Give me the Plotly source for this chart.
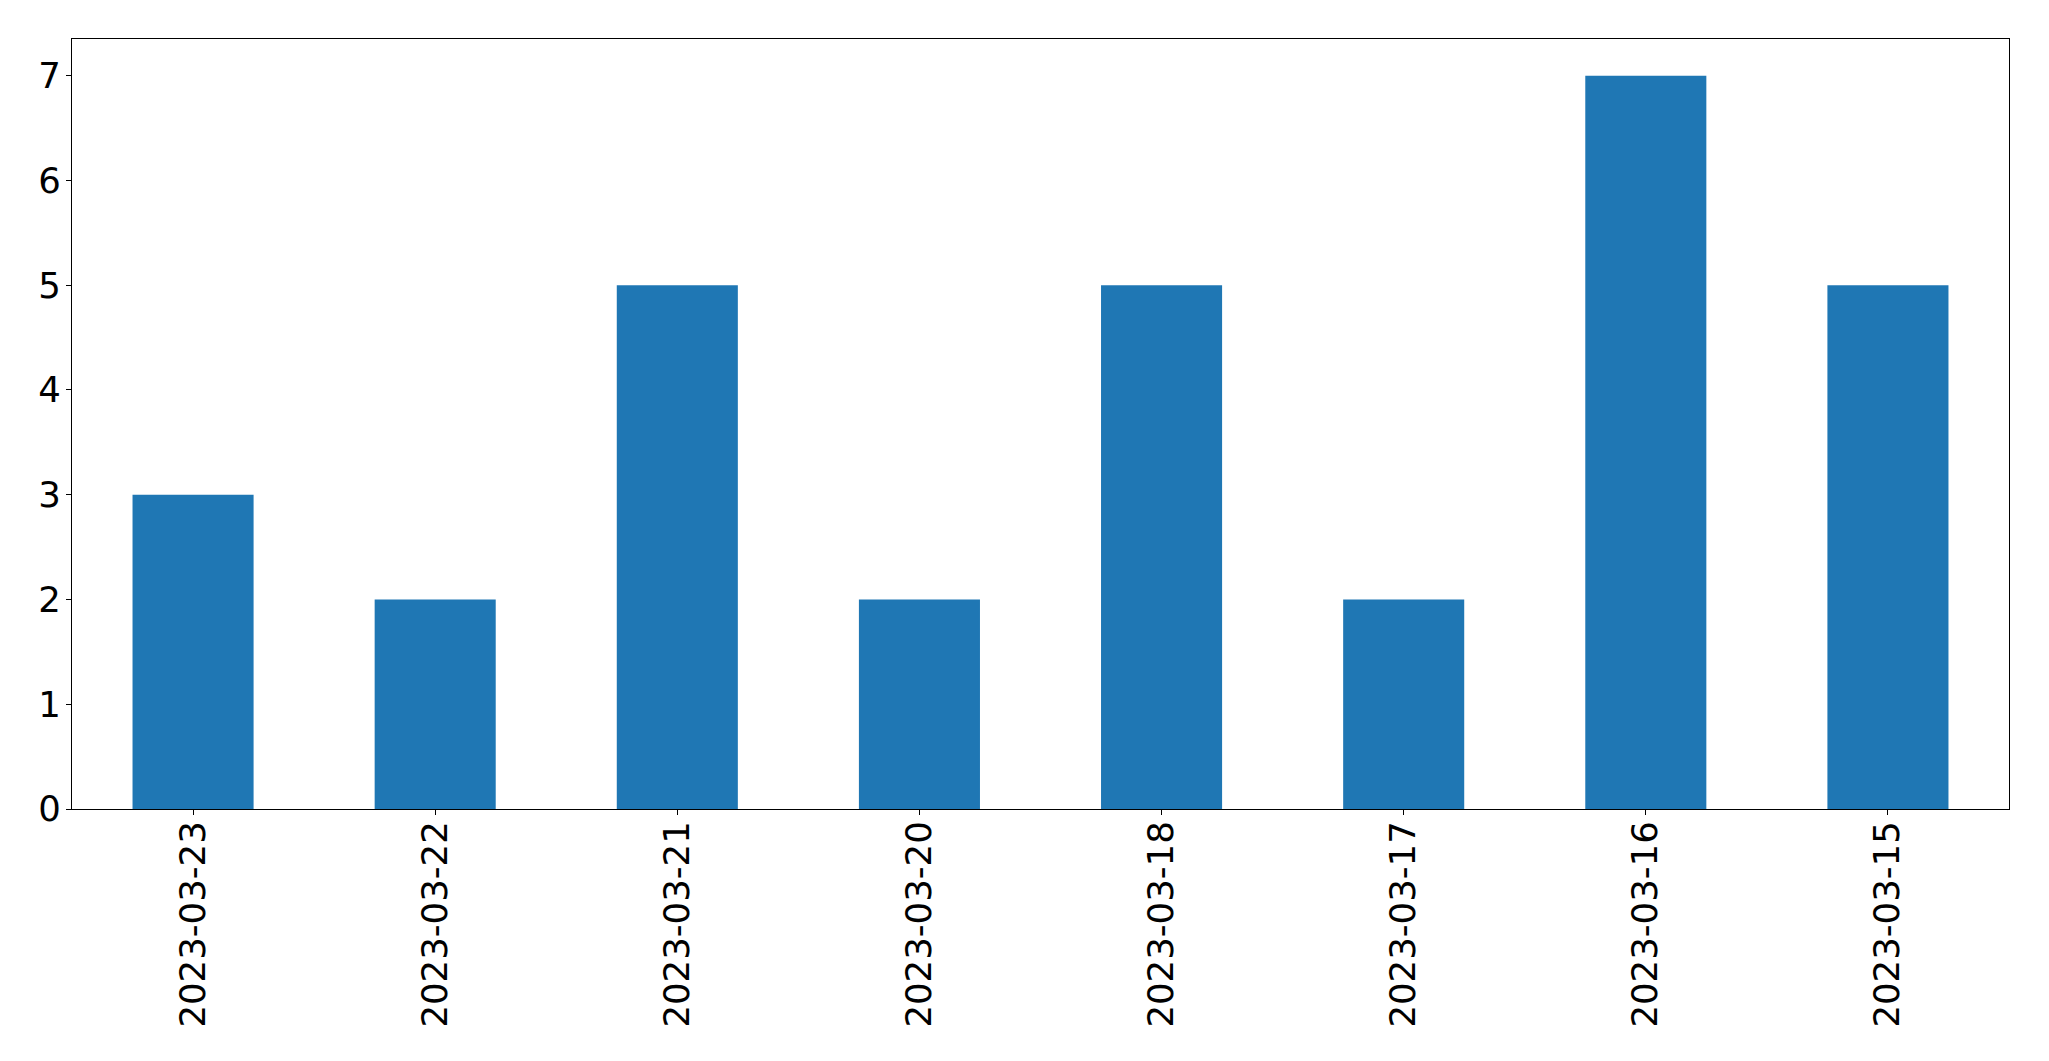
import plotly.graph_objects as go

dates = ["2023-03-23", "2023-03-22", "2023-03-21", "2023-03-20",
         "2023-03-18", "2023-03-17", "2023-03-16", "2023-03-15"]
counts = [3, 2, 5, 2, 5, 2, 7, 5]

fig = go.Figure(go.Bar(x=dates, y=counts, marker_color="#1f77b4",
                       marker_line_width=0, width=0.5))

font = dict(family="DejaVu Sans", size=35.5, color="black")
fig.update_layout(
    width=2033, height=1045,
    margin=dict(l=64, r=32, t=31, b=244),
    plot_bgcolor="white", paper_bgcolor="white",
    showlegend=False,
    font=font,
)
fig.update_xaxes(type="category", range=[-0.5, 7.5], tickangle=-90,
                 showline=True, mirror=True, linecolor="black", linewidth=1.1,
                 ticks="outside", ticklen=5, tickwidth=1.1, tickcolor="black",
                 showgrid=False, zeroline=False, tickfont=font, ticklabelstandoff=-8)
fig.update_yaxes(range=[0, 7.35], tickvals=[0, 1, 2, 3, 4, 5, 6, 7],
                 showline=True, mirror=True, linecolor="black", linewidth=1.1,
                 ticks="outside", ticklen=5, tickwidth=1.1, tickcolor="black",
                 showgrid=False, zeroline=False, tickfont=font, ticklabelstandoff=-2)

fig.write_html("out.html")
